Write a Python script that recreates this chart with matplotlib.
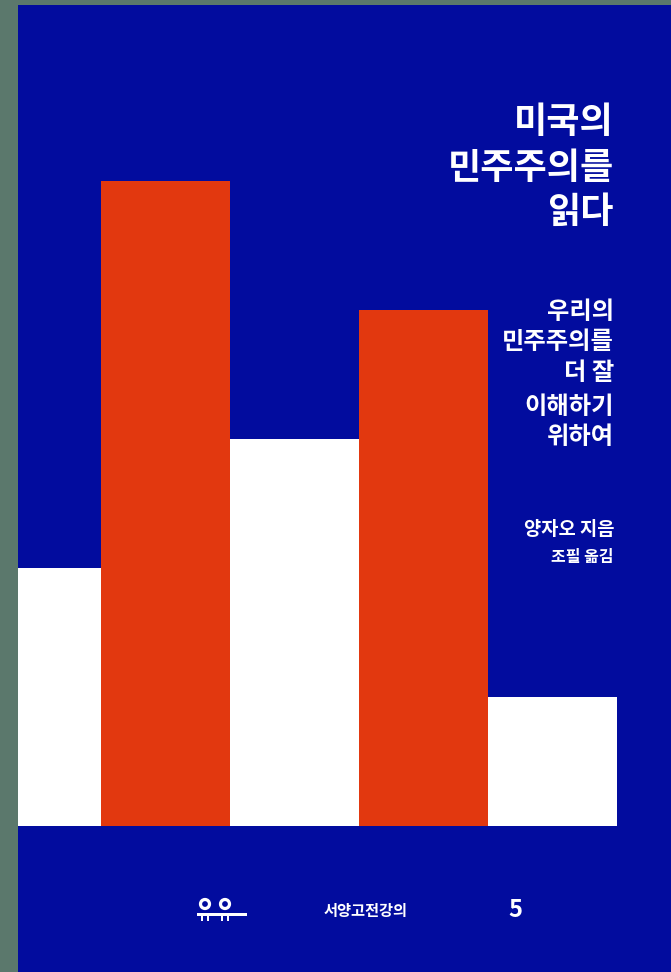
import matplotlib
matplotlib.use("Agg")
import matplotlib.pyplot as plt
from matplotlib.patches import Circle, Rectangle
from matplotlib.transforms import IdentityTransform

plt.rcParams['font.family'] = ['Noto Sans CJK KR', 'DejaVu Sans']

# Data
positions = [0, 1, 2, 3, 4]
values = [2, 5, 3, 4, 1]
bar_colors = ['#FFFFFF', '#E2380F', '#FFFFFF', '#E2380F', '#FFFFFF']

title_lines = ['미국의', '민주주의를', '읽다']
subtitle_lines = ['우리의', '민주주의를', '더 잘', '이해하기', '위하여']
author = '양자오 지음'
translator = '조필 옮김'
series_name = '서양고전강의'
volume = '5'

W, H = 671, 972
BLUE = '#020C9E'
fig = plt.figure(figsize=(W / 100, H / 100), dpi=100)
fig.patch.set_facecolor('#5B786C')

left_px, top_px = 18, 5
ax = fig.add_axes([left_px / W, 0, (W - left_px) / W, (H - top_px) / H])
ax.set_facecolor(BLUE)
ax.bar(positions, values, width=1.0, color=bar_colors, linewidth=0)
ax.set_xlim(-0.1434, 4.918)
ax.set_ylim(-1.132, 6.364)
ax.set_xticks([])
ax.set_yticks([])
for s in ax.spines.values():
    s.set_visible(False)


def ftext(px, py, s, **kw):
    fig.text(px / W, 1 - py / H, s, color='white', **kw)


for s, y in zip(title_lines, [122, 168, 212]):
    ftext(614, y, s, fontsize=26, fontweight='bold', ha='right', va='center')

for s, y in zip(subtitle_lines, [312, 342, 373, 407, 437]):
    ftext(614, y, s, fontsize=17.5, fontweight='bold', ha='right', va='center')

ftext(614, 529, author, fontsize=13.5, fontweight='bold', ha='right', va='center')
ftext(614, 557, translator, fontsize=11.5, fontweight='bold', ha='right', va='center')

ftext(366, 911, series_name, fontsize=11, fontweight='bold', ha='center', va='center')
ftext(515, 910, volume, fontsize=17, fontweight='bold', ha='center', va='center')

# publisher logo (decoration) in pixel coordinates
ident = IdentityTransform()
def py(y):
    return H - y
for cx in (205, 225):
    fig.patches.append(Circle((cx, py(904)), 4.5, transform=ident, facecolor=BLUE,
                              edgecolor='white', linewidth=2.3))
fig.patches.append(Rectangle((197, py(916)), 50, 2.8, transform=ident, facecolor='white',
                             edgecolor='none'))
for lx in (201, 207, 221, 227):
    fig.patches.append(Rectangle((lx, py(921)), 2.4, 6, transform=ident, facecolor='white',
                                 edgecolor='none'))

fig.savefig('out.png', dpi=100, facecolor=fig.get_facecolor())
